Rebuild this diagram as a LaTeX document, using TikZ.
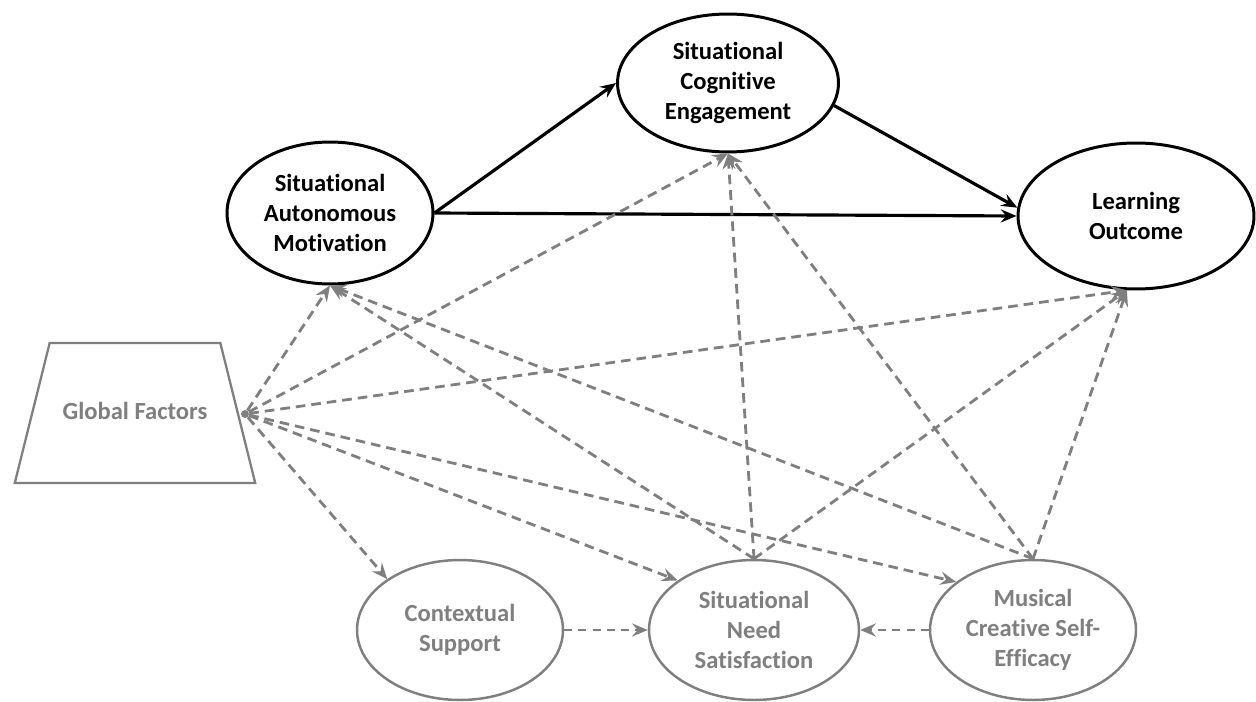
\documentclass[tikz,border=0pt]{standalone}
\usepackage{fontspec}
\setmainfont{Carlito}[Ligatures=NoCommon]
\usetikzlibrary{arrows.meta,shapes.geometric}
\definecolor{greyline}{HTML}{7F7F7F}
\tikzset{
  varnode/.style = {ellipse, draw=black, fill=white, line width=1.7pt, inner sep=0pt},
  ctxnode/.style = {varnode, draw=greyline, line width=1.4pt},
  % text inside the ellipses
  varlabel/.style = {align=center, font=\fontsize{14}{17}\selectfont\bfseries, text=black},
  ctxlabel/.style = {varlabel, text=greyline},
  gfnode/.style = {trapezium, trapezium angle=76, draw=greyline, line width=1.3pt,
    inner xsep=0.26cm, inner ysep=1.17cm, text height=10pt, text depth=3pt,
    fill=white, text=greyline, font=\fontsize{14}{17}\selectfont\bfseries},
  gfdot/.style = {circle, fill=greyline, inner sep=0pt, minimum size=0.16cm},
  mainpath/.style = {->, draw=black, line width=1.8pt},
  sidepath/.style = {->, draw=greyline, line width=1.6pt, dash pattern=on 5.5pt off 3.4pt},
  thinpath/.style = {sidepath, line width=1.2pt, dash pattern=on 4.5pt off 3.6pt}
}
\begin{document}
\begin{tikzpicture}[>={Stealth[length=9pt, width=7.5pt, inset=3.2pt]}, x=0.02cm, y=-0.02cm]
    \useasboundingbox (0,0) rectangle (1256,702);
    % Layer 0 - main constructs:
    \node [varnode, minimum width=4.12cm, minimum height=2.84cm,
           label={[varlabel]center:{Situational\\Autonomous\\Motivation}}] (sam) at (330,213) {};
    \node [varnode, minimum width=4.42cm, minimum height=2.76cm,
           label={[varlabel]center:{Situational\\Cognitive\\Engagement}}] (sce) at (728,83) {};
    \node [varnode, minimum width=4.72cm, minimum height=2.92cm,
           label={[varlabel]center:{Learning\\Outcome}}] (lo) at (1136,216) {};
    % Layer 1 - global factors:
    \node [gfnode] (gf) at (135,413) {Global Factors};
    \node [gfdot] (gfo) at (245,414) {};
    % Layer 2 - context constructs:
    \node [ctxnode, minimum width=4.12cm, minimum height=2.8cm,
           label={[ctxlabel]center:{Contextual\\Support}}] (cs) at (460,630) {};
    \node [ctxnode, minimum width=4.2cm, minimum height=2.8cm,
           label={[ctxlabel]center:{Situational\\Need\\Satisfaction}}] (sns) at (754,630) {};
    \node [ctxnode, minimum width=4.12cm, minimum height=2.8cm,
           label={[ctxlabel]center:{Musical\\Creative Self-\\Efficacy}}] (mcse) at (1033,630) {};

    % solid paths
    \draw [mainpath] (sam.east) -- (sce.west);
    \draw [mainpath] (sam.east) -- (lo.west);
    \draw [mainpath] (sce.-12) -- (lo.176);

    % dashed paths from global factors
    \draw [sidepath] (gfo) -- (sam.south);
    \draw [sidepath] (gfo) -- (sce.south);
    \draw [sidepath] (gfo) -- (lo.-97);
    \draw [sidepath] (gfo) -- (cs.145);
    \draw [sidepath] (gfo) -- (sns.147);
    \draw [sidepath] (gfo) -- (mcse.148);
    % dashed paths from need satisfaction
    \draw [sidepath] (sns.north) -- (sam.south);
    \draw [sidepath] (sns.north) -- (sce.south);
    \draw [sidepath] (sns.north) -- (lo.-97);
    % dashed paths from self-efficacy
    \draw [sidepath] (mcse.north) -- (sam.south);
    \draw [sidepath] (mcse.north) -- (sce.south);
    \draw [sidepath] (mcse.north) -- (lo.-97);
    % into need satisfaction
    \draw [thinpath] (cs.east) -- (sns.west);
    \draw [thinpath] (mcse.west) -- (sns.east);
\end{tikzpicture}
\end{document}
